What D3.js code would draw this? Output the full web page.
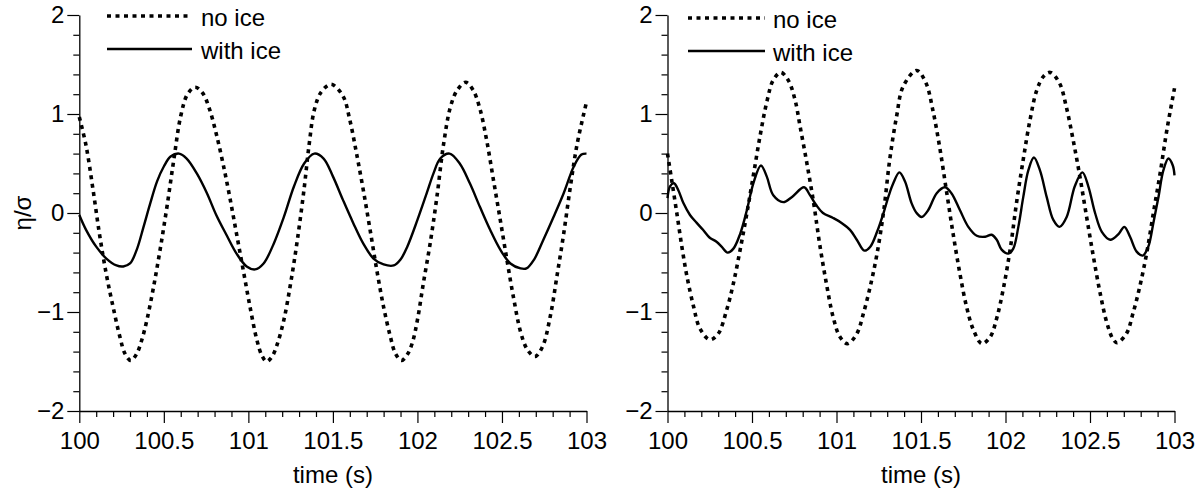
<!DOCTYPE html>
<html>
<head>
<meta charset="utf-8">
<script src="https://cdn.jsdelivr.net/npm/d3@7"></script>
<style>
  html, body { margin: 0; padding: 0; background: #fff; }
  svg { display: block; }
  text { font-family: "Liberation Sans", Arial, Helvetica, sans-serif; fill: #000; }
</style>
</head>
<body>
<svg id="chart" width="1204" height="494"></svg>
<script>
// ---------- DATA ----------
const xMajorTicks = [100, 100.5, 101, 101.5, 102, 102.5, 103];
const yMajorTicks = [-2, -1, 0, 1, 2];
const seriesNames = ["no ice", "with ice"];
const xLabel = "time (s)";
const yLabel = "η/σ";

// left panel, no ice  [time, eta/sigma]
const leftNoIce = [
  [100.00,0.97],[100.04,0.68],[100.08,0.25],[100.12,-0.22],[100.16,-0.62],[100.20,-0.95],
  [100.24,-1.25],[100.27,-1.42],[100.305,-1.49],[100.34,-1.42],[100.37,-1.28],[100.40,-1.08],
  [100.44,-0.74],[100.48,-0.35],[100.52,0.08],[100.56,0.55],[100.60,0.98],[100.64,1.20],
  [100.685,1.27],[100.73,1.21],[100.77,1.05],[100.81,0.80],[100.85,0.50],[100.89,0.16],
  [100.93,-0.21],[100.97,-0.58],[101.01,-0.95],[101.05,-1.28],[101.08,-1.44],[101.108,-1.50],
  [101.14,-1.45],[101.17,-1.33],[101.21,-1.08],[101.25,-0.71],[101.29,-0.27],[101.33,0.25],
  [101.36,0.70],[101.39,1.04],[101.43,1.22],[101.49,1.30],[101.56,1.18],[101.60,0.94],
  [101.64,0.60],[101.68,0.23],[101.72,-0.17],[101.76,-0.58],[101.80,-0.95],[101.84,-1.25],
  [101.87,-1.42],[101.905,-1.49],[101.94,-1.43],[101.97,-1.31],[102.00,-1.08],[102.035,-0.71],
  [102.075,-0.31],[102.115,0.16],[102.155,0.70],[102.195,1.07],[102.235,1.24],[102.285,1.32],
  [102.33,1.24],[102.37,1.05],[102.41,0.73],[102.45,0.33],[102.49,-0.07],[102.53,-0.48],
  [102.57,-0.87],[102.61,-1.20],[102.65,-1.38],[102.695,-1.45],[102.74,-1.35],[102.785,-1.05],
  [102.825,-0.64],[102.865,-0.21],[102.905,0.27],[102.945,0.70],[103.00,1.12]
];

// left panel, with ice
const leftWithIce = [
  [100.00,-0.02],[100.04,-0.17],[100.10,-0.34],[100.16,-0.46],[100.22,-0.53],[100.26,-0.54],
  [100.30,-0.51],[100.34,-0.37],[100.38,-0.14],[100.42,0.10],[100.46,0.32],[100.50,0.47],
  [100.54,0.57],[100.59,0.60],[100.635,0.55],[100.695,0.40],[100.755,0.20],[100.81,-0.02],
  [100.87,-0.22],[100.93,-0.41],[100.99,-0.54],[101.04,-0.57],[101.09,-0.51],[101.15,-0.31],
  [101.21,-0.04],[101.27,0.27],[101.33,0.50],[101.39,0.60],[101.445,0.55],[101.50,0.37],
  [101.56,0.13],[101.62,-0.10],[101.68,-0.31],[101.74,-0.46],[101.80,-0.52],[101.86,-0.53],
  [101.90,-0.47],[101.94,-0.34],[102.00,-0.07],[102.055,0.20],[102.095,0.40],[102.135,0.55],
  [102.19,0.60],[102.25,0.50],[102.31,0.30],[102.37,0.06],[102.43,-0.17],[102.49,-0.37],
  [102.55,-0.51],[102.61,-0.56],[102.645,-0.56],[102.69,-0.47],[102.745,-0.27],[102.805,-0.04],
  [102.865,0.20],[102.925,0.47],[102.97,0.59],[103.00,0.60]
];

// right panel, no ice
const rightNoIce = [
  [100.00,0.60],[100.025,0.33],[100.055,0.00],[100.085,-0.34],[100.115,-0.64],[100.155,-0.95],
  [100.19,-1.16],[100.25,-1.28],[100.30,-1.22],[100.35,-0.98],[100.39,-0.71],[100.43,-0.37],
  [100.47,0.00],[100.51,0.40],[100.55,0.80],[100.59,1.14],[100.625,1.34],[100.67,1.42],
  [100.715,1.34],[100.755,1.14],[100.785,0.87],[100.825,0.50],[100.865,0.10],[100.90,-0.31],
  [100.94,-0.71],[100.98,-1.05],[101.02,-1.25],[101.065,-1.32],[101.12,-1.22],[101.16,-1.01],
  [101.20,-0.74],[101.24,-0.41],[101.28,0.03],[101.315,0.54],[101.355,0.97],[101.395,1.28],
  [101.475,1.44],[101.53,1.31],[101.57,1.04],[101.61,0.67],[101.65,0.23],[101.69,-0.21],
  [101.73,-0.61],[101.77,-0.95],[101.81,-1.18],[101.86,-1.32],[101.91,-1.25],[101.95,-1.05],
  [101.99,-0.74],[102.03,-0.34],[102.065,0.10],[102.105,0.54],[102.145,0.94],[102.185,1.24],
  [102.225,1.38],[102.265,1.42],[102.32,1.31],[102.36,1.07],[102.40,0.74],[102.44,0.37],
  [102.48,-0.04],[102.52,-0.44],[102.56,-0.81],[102.60,-1.11],[102.635,-1.27],[102.66,-1.31],
  [102.715,-1.22],[102.755,-1.01],[102.795,-0.74],[102.835,-0.41],[102.875,0.00],[102.915,0.40],
  [102.955,0.84],[103.00,1.26]
];

// right panel, with ice
const rightWithIce = [
  [100.00,0.15],[100.015,0.27],[100.038,0.30],[100.064,0.23],[100.094,0.10],[100.133,-0.02],
  [100.173,-0.10],[100.21,-0.17],[100.25,-0.25],[100.29,-0.29],[100.32,-0.34],[100.356,-0.40],
  [100.39,-0.36],[100.43,-0.21],[100.47,0.03],[100.508,0.30],[100.553,0.48],[100.587,0.37],
  [100.626,0.18],[100.685,0.11],[100.735,0.16],[100.808,0.26],[100.843,0.18],[100.88,0.08],
  [100.92,0.00],[100.98,-0.05],[101.03,-0.10],[101.08,-0.17],[101.12,-0.27],[101.165,-0.38],
  [101.20,-0.34],[101.24,-0.19],[101.28,0.01],[101.31,0.18],[101.336,0.30],[101.372,0.41],
  [101.405,0.32],[101.444,0.10],[101.474,0.00],[101.504,-0.04],[101.543,0.03],[101.593,0.20],
  [101.642,0.26],[101.68,0.20],[101.73,0.03],[101.78,-0.14],[101.83,-0.23],[101.88,-0.24],
  [101.918,-0.22],[101.948,-0.27],[101.977,-0.37],[102.017,-0.41],[102.046,-0.36],[102.076,-0.14],
  [102.105,0.16],[102.135,0.43],[102.168,0.56],[102.204,0.43],[102.244,0.16],[102.283,-0.07],
  [102.32,-0.14],[102.362,-0.04],[102.41,0.27],[102.455,0.41],[102.49,0.27],[102.53,0.00],
  [102.57,-0.19],[102.62,-0.27],[102.67,-0.21],[102.703,-0.14],[102.737,-0.24],[102.776,-0.39],
  [102.812,-0.43],[102.845,-0.34],[102.875,-0.10],[102.905,0.16],[102.934,0.43],[102.964,0.55],
  [102.99,0.48],[103.00,0.38]
];

// ---------- DRAWING ----------
const svg = d3.select("#chart");
const FONT = 24;

const panels = [
  { x0: 79.3, x1: 586.5, noIce: leftNoIce, withIce: leftWithIce, showY: true,
    legX0: 107, legX1: 192, legText: 201, legY: [16, 49] },
  { x0: 667.5, x1: 1174.5, noIce: rightNoIce, withIce: rightWithIce, showY: false,
    legX0: 688, legX1: 765, legText: 773, legY: [18, 51] }
];
const yTop = 15, yBot = 411;

const y = d3.scaleLinear().domain([-2, 2]).range([yBot, yTop]);
const yMinor = d3.range(-2, 2.0001, 0.2).map(v => +v.toFixed(1)).filter(v => !yMajorTicks.includes(v));
const xMinor = d3.range(100, 103.0001, 0.1).map(v => +v.toFixed(1)).filter(v => !xMajorTicks.includes(v));
const fmt = d => (d < 0 ? "\u2212" + Math.abs(d) : String(d));

panels.forEach(p => {
  const x = d3.scaleLinear().domain([100, 103]).range([p.x0, p.x1]);
  const g = svg.append("g");

  // minor ticks
  g.append("g").attr("transform", `translate(${p.x0},0)`)
    .call(d3.axisLeft(y).tickValues(yMinor).tickSize(6).tickSizeOuter(0).tickFormat(""))
    .call(a => a.select(".domain").remove());
  g.append("g").attr("transform", `translate(0,${yBot})`)
    .call(d3.axisBottom(x).tickValues(xMinor).tickSize(6).tickSizeOuter(0).tickFormat(""))
    .call(a => a.select(".domain").remove());

  // major axes
  const ya = g.append("g").attr("transform", `translate(${p.x0},0)`)
    .call(d3.axisLeft(y).tickValues(yMajorTicks).tickSize(12).tickSizeOuter(0).tickPadding(3).tickFormat(fmt));
  const xa = g.append("g").attr("transform", `translate(0,${yBot})`)
    .call(d3.axisBottom(x).tickValues(xMajorTicks).tickSize(12).tickSizeOuter(0).tickPadding(9).tickFormat(d => String(d)));
  [ya, xa].forEach(a => {
    a.selectAll("text").style("font-size", FONT + "px").attr("fill", "#000");
    a.select(".domain").attr("stroke", "#000").attr("stroke-width", 1.3);
  });
  g.selectAll("line").attr("stroke", "#000").attr("stroke-width", 1.2);

  // axis labels
  g.append("text").attr("x", (p.x0 + p.x1) / 2).attr("y", 483)
    .attr("text-anchor", "middle").style("font-size", FONT + "px").text(xLabel);
  if (p.showY) {
    g.append("text").attr("transform", `translate(31,${(yTop + yBot) / 2}) rotate(-90)`)
      .attr("text-anchor", "middle").style("font-size", FONT + "px").text(yLabel);
  }

  const line = d3.line().x(d => x(d[0])).y(d => y(d[1])).curve(d3.curveCatmullRom.alpha(0.5));

  g.append("path").datum(p.noIce).attr("d", line)
    .attr("fill", "none").attr("stroke", "#000").attr("stroke-width", 3.6)
    .attr("stroke-dasharray", "4,4.5");
  g.append("path").datum(p.withIce).attr("d", line)
    .attr("fill", "none").attr("stroke", "#000").attr("stroke-width", 2.4)
    .attr("stroke-linejoin", "round");

  // legend
  const styles = [{ w: 3.6, dash: "4,4.5" }, { w: 2.4, dash: null }];
  seriesNames.forEach((name, i) => {
    const ly = p.legY[i];
    g.append("line").attr("x1", p.legX0).attr("x2", p.legX1).attr("y1", ly).attr("y2", ly)
      .attr("stroke", "#000").attr("stroke-width", styles[i].w)
      .attr("stroke-dasharray", styles[i].dash);
    g.append("text").attr("x", p.legText).attr("y", ly + 10)
      .style("font-size", FONT + "px").text(name);
  });
});
</script>
</body>
</html>
